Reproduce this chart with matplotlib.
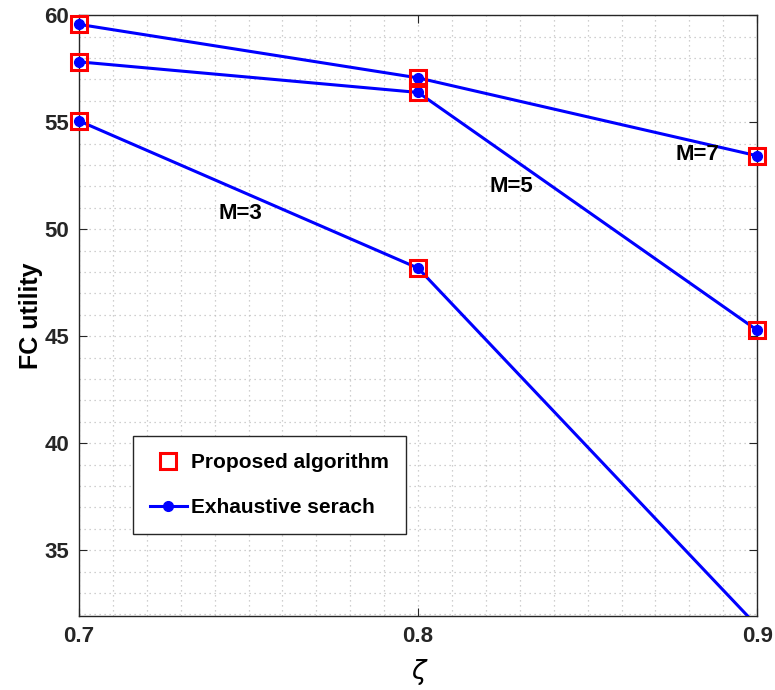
import matplotlib
matplotlib.use("Agg")
import matplotlib.pyplot as plt
import numpy as np

plt.rcParams['font.family'] = ['Liberation Sans', 'DejaVu Sans']
plt.rcParams['font.weight'] = 'bold'

zeta = [0.7, 0.8, 0.9]
m3 = [55.06, 48.18, 31.46]
m5 = [57.82, 56.39, 45.28]
m7 = [59.57, 57.07, 53.43]
series = [m3, m5, m7]
labels = ["M=3", "M=5", "M=7"]
label_pos = [(0.7475, 50.75), (0.8274, 52.0), (0.8823, 53.5)]
ylo, yhi = 31.92, 60

fig = plt.figure(figsize=(7.75, 6.9), dpi=100)
ax = fig.add_axes([0.102, 0.107, 0.875, 0.871])

for s in series:
    s = np.array(s)
    ax.plot(zeta, s, color='blue', lw=2.2, zorder=3)
    vis = np.where(s >= ylo, s, np.nan)  # markers outside limits are hidden, like MATLAB
    ax.plot(zeta, vis, ls='none', marker='o', ms=7, color='blue', clip_on=False, zorder=4)
    ax.plot(zeta, vis, ls='none', marker='s', ms=12, mfc='none', mec='red', mew=2.2,
            clip_on=False, zorder=5)

for lab, (x, y) in zip(labels, label_pos):
    ax.text(x, y, lab, fontsize=16, fontweight='bold', ha='center', va='center', zorder=6)

# legend handles
h1, = ax.plot([], [], ls='none', marker='s', ms=11, mfc='none', mec='red', mew=2.2)
h2, = ax.plot([], [], color='blue', lw=2.2, marker='o', ms=7)
leg = ax.legend([h1, h2], ["Proposed algorithm", "Exhaustive serach"],
                loc='upper left', bbox_to_anchor=(0.0796, 0.2995, 0.403, 0.0), mode='expand',
                borderaxespad=0, fontsize=15, labelspacing=1.25, handlelength=1.8,
                handletextpad=0.2, borderpad=0.8, fancybox=False, framealpha=1,
                edgecolor='#262626')
leg.get_frame().set_linewidth(1.0)
for t in leg.get_texts():
    t.set_fontweight('bold')

ax.set_xlim(0.7, 0.9)
ax.set_ylim(ylo, yhi)
ax.set_xticks([0.7, 0.8, 0.9])
ax.set_yticks([35, 40, 45, 50, 55, 60])
ax.set_xticks(np.arange(0.7, 0.9001, 0.01), minor=True)
ax.set_yticks(np.arange(32, 60.01, 1), minor=True)
ax.grid(True, which='both', ls=(0, (1, 3)), color='#c0c0c0', lw=0.9)
ax.tick_params(which='major', direction='in', length=6, top=True, right=True,
               labelsize=16, colors='#262626', pad=7)
ax.tick_params(which='minor', length=0)
for lbl in ax.get_xticklabels() + ax.get_yticklabels():
    lbl.set_fontweight('bold')
for sp in ax.spines.values():
    sp.set_color('#262626')
    sp.set_linewidth(1.0)

ax.set_ylabel("FC utility", fontsize=18, fontweight='bold', labelpad=1)
ax.set_xlabel("ζ", fontsize=19, fontstyle='italic', fontweight='normal',
              family='DejaVu Sans', labelpad=9)

fig.savefig("out.png", dpi=100)
